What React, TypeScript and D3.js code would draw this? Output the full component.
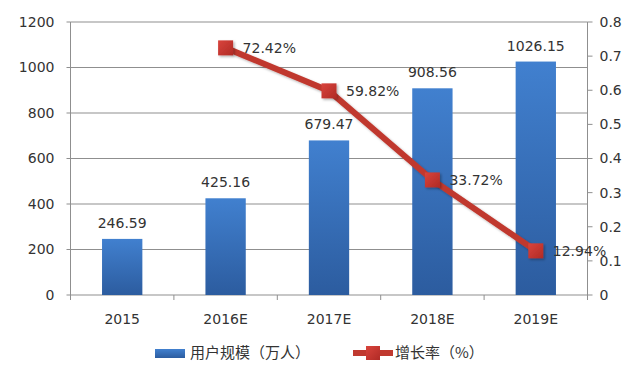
import React from "react";
import * as d3 from "d3";

const categories = ["2015", "2016E", "2017E", "2018E", "2019E"];
const users = [246.59, 425.16, 679.47, 908.56, 1026.15];
const userLabels = ["246.59", "425.16", "679.47", "908.56", "1026.15"];
const growthCats = ["2016E", "2017E", "2018E", "2019E"];
const growth = [0.7242, 0.5982, 0.3372, 0.1294];
const growthLabels = ["72.42%", "59.82%", "33.72%", "12.94%"];
const leftTicks = [0, 200, 400, 600, 800, 1000, 1200];
const rightTicks = [0, 0.1, 0.2, 0.3, 0.4, 0.5, 0.6, 0.7, 0.8];
const legendBar = "用户规模（万人）";
const legendLine = "增长率（%）";

const W = 640, H = 386;
const L = 70.5, R = 587.5, T = 22, B = 295;
const numFont = "'DejaVu Sans', sans-serif";
const cjkFont = "'Noto Sans CJK SC', sans-serif";
const textColor = "#333";
const axisColor = "#8f8f8f";
const lineColor = "#c0392f";

export default function App() {
  const x = d3.scaleBand<string>().domain(categories).range([L, R]).paddingInner(0.61).paddingOuter(0.305);
  const band = d3.scaleBand<string>().domain(categories).range([L, R]);
  const yL = d3.scaleLinear().domain([0, 1200]).range([B, T]);
  const yR = d3.scaleLinear().domain([0, 0.8]).range([B, T]);
  const cx = (c: string) => (band(c) as number) + band.bandwidth() / 2;
  const line = d3.line<number>().x((_, i) => cx(growthCats[i])).y((d) => yR(d));
  const boundaries = categories.map((c) => band(c) as number).concat([R]);

  return (
    <svg width={W} height={H} style={{ position: "absolute", left: 0, top: 0, background: "#fff" }}>
      <defs>
        <linearGradient id="barGrad" x1="0" y1="0" x2="0" y2="1">
          <stop offset="0" stopColor="#4180cf" />
          <stop offset="1" stopColor="#2c5c9f" />
        </linearGradient>
        <linearGradient id="mkGrad" x1="0" y1="0" x2="1" y2="1">
          <stop offset="0" stopColor="#d9443c" />
          <stop offset="1" stopColor="#b02a25" />
        </linearGradient>
        <filter id="shadow" x="-30%" y="-30%" width="170%" height="170%">
          <feDropShadow dx="1.5" dy="1.5" stdDeviation="1.2" floodColor="#000" floodOpacity="0.3" />
        </filter>
      </defs>
      {leftTicks.map((t) => (
        <line key={"g" + t} x1={L} x2={R} y1={yL(t)} y2={yL(t)} stroke={axisColor} strokeWidth={1} />
      ))}
      <line x1={L} x2={L} y1={T} y2={B} stroke={axisColor} />
      {leftTicks.map((t) => (
        <g key={"l" + t}>
          <line x1={L - 4} x2={L} y1={yL(t)} y2={yL(t)} stroke={axisColor} />
          <text x={L - 16} y={yL(t)} dy="0.35em" textAnchor="end" fontFamily={numFont} fontSize={14} fill={textColor}>{t}</text>
        </g>
      ))}
      <line x1={R} x2={R} y1={T} y2={B} stroke={axisColor} />
      {rightTicks.map((t) => (
        <g key={"r" + t}>
          <line x1={R} x2={R + 5} y1={yR(t)} y2={yR(t)} stroke={axisColor} />
          <text x={R + 12} y={yR(t)} dy="0.35em" textAnchor="start" fontFamily={numFont} fontSize={14} fill={textColor}>{d3.format("")(+t.toFixed(1))}</text>
        </g>
      ))}
      {boundaries.map((b, i) => (
        <line key={"b" + i} x1={b} x2={b} y1={B} y2={B + 5} stroke={axisColor} />
      ))}
      {categories.map((c) => (
        <text key={"c" + c} x={cx(c)} y={B + 24} dy="0.35em" textAnchor="middle" fontFamily={numFont} fontSize={14} fill={textColor}>{c}</text>
      ))}
      {categories.map((c, i) => (
        <g key={"bar" + c}>
          <rect x={x(c)} y={yL(users[i])} width={x.bandwidth()} height={B - yL(users[i])} fill="url(#barGrad)" />
          <text x={cx(c)} y={yL(users[i]) - 11} textAnchor="middle" fontFamily={numFont} fontSize={14} fill={textColor}>{userLabels[i]}</text>
        </g>
      ))}
      <path d={line(growth) || ""} fill="none" stroke={lineColor} strokeWidth={6} filter="url(#shadow)" />
      {growth.map((g, i) => (
        <g key={"m" + i}>
          <rect x={cx(growthCats[i]) - 7.5} y={yR(g) - 7.5} width={15} height={15} fill="url(#mkGrad)" filter="url(#shadow)" />
          <text x={cx(growthCats[i]) + 17} y={yR(g)} dy="0.35em" textAnchor="start" fontFamily={numFont} fontSize={14} fill={textColor}>{growthLabels[i]}</text>
        </g>
      ))}
      <rect x={155} y={349} width={30} height={9} fill="url(#barGrad)" />
      <text x={190} y={353} dy="0.35em" fontFamily={cjkFont} fontSize={15} fill={textColor}>{legendBar}</text>
      <line x1={353} x2={393} y1={353} y2={353} stroke={lineColor} strokeWidth={6} />
      <rect x={366} y={346} width={14} height={14} fill="url(#mkGrad)" />
      <text x={395} y={353} dy="0.35em" fontFamily={cjkFont} fontSize={15} fill={textColor}>{legendLine}</text>
    </svg>
  );
}
